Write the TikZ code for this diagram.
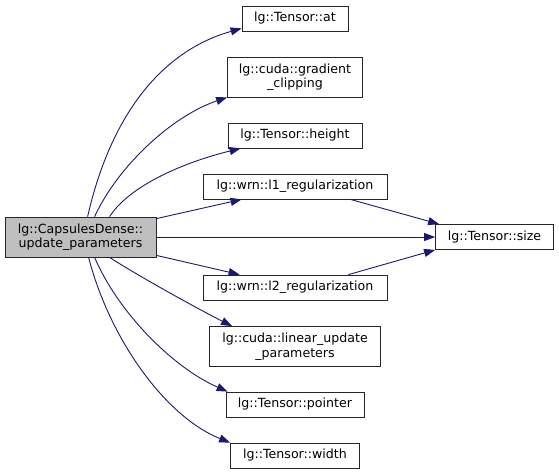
\documentclass[tikz,border=0pt]{standalone}
\usepackage{fontspec}
\setmainfont{DejaVu Sans}
\usetikzlibrary{arrows.meta,calc}
\definecolor{midblue}{HTML}{191970}
\begin{document}
\begin{tikzpicture}[x=1pt,y=-1pt,
  box/.style={draw=black!85, line width=0.8pt, fill=white, text=black,
    font=\fontsize{12.6}{14.5}\selectfont, align=center, inner sep=0pt,
    minimum height=25pt},
  dbl/.style={minimum height=40pt},
  edge/.style={draw=midblue, line width=0.9pt, -{Triangle[length=11pt,width=8pt]}}]
\useasboundingbox (0,0) rectangle (559,475);

\node[box,dbl,fill=black!25,minimum width=151pt] (src) at (80.5,237) {lg::CapsulesDense::\\update\_parameters};
\node[box,minimum width=106pt] (at) at (295,18.5) {lg::Tensor::at};
\node[box,dbl,minimum width=135pt] (grad) at (295,77) {lg::cuda::gradient\\\_clipping};
\node[box,minimum width=134pt] (height) at (295,135.5) {lg::Tensor::height};
\node[box,minimum width=184pt] (l1) at (295,186.5) {lg::wrn::l1\_regularization};
\node[box,minimum width=118pt] (size) at (494.5,237) {lg::Tensor::size};
\node[box,minimum width=184pt] (l2) at (295,287.5) {lg::wrn::l2\_regularization};
\node[box,dbl,minimum width=171pt] (linear) at (295,346.5) {lg::cuda::linear\_update\\\_parameters};
\node[box,minimum width=138pt] (pointer) at (295,404.5) {lg::Tensor::pointer};
\node[box,minimum width=129pt] (width) at (295,455.5) {lg::Tensor::width};

\draw[edge] ($(src.north west)+(83,0)$) .. controls (112,110) and (165,50) .. ($(at.south west)+(0,-3)$);
\draw[edge] ($(src.north west)+(90,0)$) .. controls (118,166) and (172,116) .. (grad.south west);
\draw[edge] ($(src.north west)+(105,0)$) .. controls (130,185) and (185,162) .. ($(height.south west)+(13,0)$);
\draw[edge] ($(src.north east)+(0,2)$) -- ($(l1.south west)+(39,0)$);
\draw[edge] (src.east) -- (size.west);
\draw[edge] ($(src.south east)+(0,-2)$) -- ($(l2.north west)+(37,0)$);
\draw[edge] ($(src.south west)+(105,0)$) .. controls (140,277) and (200,310) .. ($(linear.north west)+(23,0)$);
\draw[edge] ($(src.south west)+(90,0)$) .. controls (118,312) and (172,367) .. ($(pointer.north west)+(2,0)$);
\draw[edge] ($(src.south west)+(84,0)$) .. controls (110,340) and (166,417) .. (width.north west);
\draw[edge] ($(l1.south east)+(-37,0)$) -- ($(size.north west)+(4,0)$);
\draw[edge] ($(l2.north east)+(-39,0)$) -- (size.south west);
\end{tikzpicture}
\end{document}
